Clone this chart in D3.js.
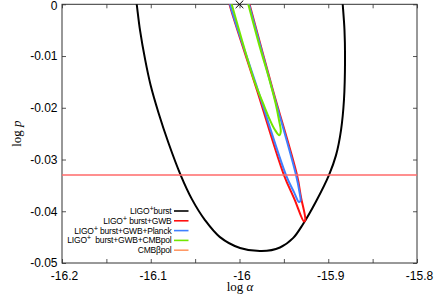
<!DOCTYPE html>
<html>
<head>
<meta charset="utf-8">
<script src="https://cdn.jsdelivr.net/npm/d3@7"></script>
<style>
  body { margin: 0; background: #fff; }
  svg { display: block; }
</style>
</head>
<body>
<div id="myPlot"></div>
<script>
// contour data (log alpha, log p)
const burstX = [-16.1172, -16.1158, -16.1121, -16.1062, -16.1002, -16.0912, -16.0800, -16.0663, -16.0535, -16.0389,
  -16.0220, -15.9994, -15.9750, -15.9544, -15.9397, -15.9285, -15.9138, -15.8992, -15.8913, -15.8856,
  -15.8823, -15.8811, -15.8817, -15.8837, -15.8845];
const burstY = [0.0018, 0, -0.0050, -0.0108, -0.0156, -0.0210, -0.0268, -0.0330, -0.0377, -0.0417,
  -0.0450, -0.0471, -0.0477, -0.0470, -0.0452, -0.0425, -0.0381, -0.0330, -0.0292, -0.0243,
  -0.0185, -0.0108, -0.0050, 0, 0.0018];

const gwbX = [-16.0135, -16.0113, -15.9803, -15.9499, -15.9380, -15.9273, -15.9259, -15.9307, -15.9352, -15.9623, -15.9887, -15.9916];
const gwbY = [0.0018, 0, -0.0166, -0.0330, -0.0377, -0.0420, -0.0417, -0.0373, -0.0330, -0.0166, 0, 0.0018];

const planckX = [-16.0125, -16.0107, -15.9792, -15.9476, -15.9386, -15.9330, -15.9313, -15.9324, -15.9363, -15.9628, -15.9893, -15.9921];
const planckY = [0.0018, 0, -0.0166, -0.0330, -0.0363, -0.0382, -0.0380, -0.0363, -0.0330, -0.0166, 0, 0.0018];

const cmbX = [-16.0118, -16.0088, -15.9837, -15.9735, -15.9656, -15.9600, -15.9552, -15.9535, -15.9555, -15.9594, -15.9656, -15.9780, -15.9901, -15.9929];
const cmbY = [0.0018, 0, -0.0146, -0.0191, -0.0224, -0.0243, -0.0253, -0.0246, -0.0224, -0.0191, -0.0150, -0.0077, 0, 0.0018];

const cmbpolLevel = -0.033;
const bestFit = [-16.0, 0];

const xTicks = [-16.2, -16.15, -16.1, -16.05, -16.0, -15.95, -15.9, -15.85, -15.8];
const yTicks = [0, -0.01, -0.02, -0.03, -0.04, -0.05];

const legendLabels = [
  ["LIGO", "+", "burst"],
  ["LIGO", "+", " burst+GWB"],
  ["LIGO", "+", " burst+GWB+Planck"],
  ["LIGO", "+", "  burst+GWB+CMBpol"],
  ["", "", "CMB\u03B2pol"]
];
const legendColors = ["#000000", "#ff1010", "#3f80ff", "#72e600", "#ff9966"];

// Set Dimensions
const W = 436, H = 295;
const mLeft = 62, mRight = 417, mTop = 4.3, mBottom = 263;

const svg = d3.select("#myPlot")
  .append("svg")
  .attr("width", W)
  .attr("height", H)
  .style("font-family", "'Liberation Sans', Arial, sans-serif");

const x = d3.scaleLinear().domain([-16.2, -15.8]).range([mLeft, mRight]);
const y = d3.scaleLinear().domain([-0.05, 0]).range([mBottom, mTop]);

svg.append("clipPath").attr("id", "plotClip")
  .append("rect")
  .attr("x", mLeft).attr("y", mTop)
  .attr("width", mRight - mLeft).attr("height", mBottom - mTop);

const isMajor = d => Math.abs(Math.round(d * 20)) % 2 === 0;

// X axes
const xBottom = svg.append("g")
  .attr("transform", "translate(0," + mBottom + ")")
  .call(d3.axisBottom(x).tickValues(xTicks).tickSize(-4).tickPadding(8)
    .tickFormat(d => isMajor(d) ? d.toFixed(1).replace("-16.0", "-16") : ""));
svg.append("g")
  .attr("transform", "translate(0," + mTop + ")")
  .call(d3.axisTop(x).tickValues(xTicks).tickSize(-4).tickFormat(""));

// Y axes
const yLeft = svg.append("g")
  .attr("transform", "translate(" + mLeft + ",0)")
  .call(d3.axisLeft(y).tickValues(yTicks).tickSize(-4).tickPadding(4.5)
    .tickFormat(d => d === 0 ? "0" : d.toFixed(2)));
svg.append("g")
  .attr("transform", "translate(" + mRight + ",0)")
  .call(d3.axisRight(y).tickValues(yTicks).tickSize(-4).tickFormat(""));

svg.selectAll(".domain").remove();
svg.selectAll(".tick line").attr("stroke", "#555");
svg.selectAll(".tick text").attr("fill", "#000").style("font-size", "12px");
xBottom.selectAll(".tick text").attr("dx", "2");
yLeft.selectAll(".tick text").filter(d => d === 0).attr("dy", "0.45em");

// Frame
svg.append("rect")
  .attr("x", mLeft).attr("y", mTop)
  .attr("width", mRight - mLeft).attr("height", mBottom - mTop)
  .attr("fill", "none").attr("stroke", "#333").attr("stroke-width", 1);

// Contours
const plot = svg.append("g").attr("clip-path", "url(#plotClip)");
const line = d3.line().x(d => x(d[0])).y(d => y(d[1])).curve(d3.curveCatmullRom.alpha(0.5));

const contours = [
  [burstX, burstY, legendColors[0]],
  [gwbX, gwbY, legendColors[1]],
  [planckX, planckY, legendColors[2]],
  [cmbX, cmbY, legendColors[3]]
];
contours.forEach(([xs, ys, color]) => {
  plot.append("path")
    .datum(d3.zip(xs, ys))
    .attr("d", line)
    .attr("fill", "none")
    .attr("stroke", color)
    .attr("stroke-width", 2)
    .attr("stroke-linejoin", "round");
});

// CMBpol level
plot.append("line")
  .attr("x1", mLeft).attr("x2", mRight)
  .attr("y1", y(cmbpolLevel)).attr("y2", y(cmbpolLevel))
  .attr("stroke", "#ff6a6a")
  .attr("stroke-width", 1.6);

// best fit marker
svg.append("path")
  .attr("transform", "translate(" + x(bestFit[0]) + "," + y(bestFit[1]) + ")")
  .attr("d", d3.symbol().type(d3.symbolX).size(40))
  .attr("fill", "none")
  .attr("stroke", "#000")
  .attr("stroke-width", 1);

// Legend
const legend = svg.append("g").style("font-size", "8.5px").style("letter-spacing", "-0.2px");
legendLabels.forEach((lab, i) => {
  const ly = 211 + i * 9.8;
  const t = legend.append("text")
    .attr("x", 171.5).attr("y", ly)
    .attr("dy", "0.35em")
    .attr("text-anchor", "end")
    .attr("xml:space", "preserve");
  if (lab[0]) {
    t.append("tspan").text(lab[0]);
    t.append("tspan").attr("dy", "-3").style("font-size", "7.5px").text(lab[1]);
    t.append("tspan").attr("dy", "3").text(lab[2]);
  } else {
    t.text(lab[2]);
  }
  legend.append("line")
    .attr("x1", 174).attr("x2", 188.5)
    .attr("y1", ly).attr("y2", ly)
    .attr("stroke", legendColors[i])
    .attr("stroke-width", 1.6);
});

// Axis labels
const labelFont = "'Liberation Serif', 'Times New Roman', serif";
const xl = svg.append("text")
  .attr("x", 240).attr("y", 291)
  .attr("text-anchor", "middle")
  .style("font-family", labelFont)
  .style("font-size", "13px");
xl.append("tspan").text("log ");
xl.append("tspan").style("font-style", "italic").text("\u03B1");

const yl = svg.append("text")
  .attr("transform", "translate(21," + ((mTop + mBottom) / 2) + ") rotate(-90)")
  .attr("text-anchor", "middle")
  .style("font-family", labelFont)
  .style("font-size", "13px");
yl.append("tspan").text("log ");
yl.append("tspan").style("font-style", "italic").text("p");
</script>
</body>
</html>
